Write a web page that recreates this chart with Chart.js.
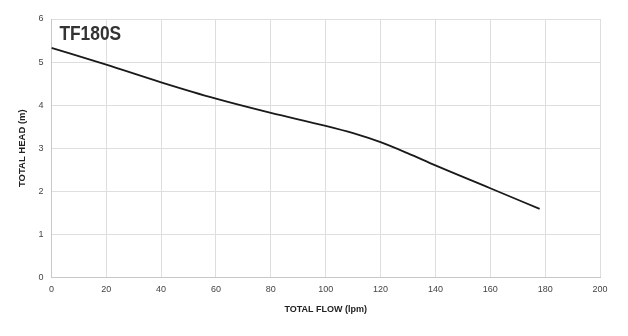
<!DOCTYPE html>
<html>
<head>
<meta charset="utf-8">
<script src="https://cdn.jsdelivr.net/npm/chart.js@4/dist/chart.umd.min.js"></script>
<style>
  html, body { margin: 0; padding: 0; background: #fff; }
  #wrap { width: 628px; height: 336px; }
</style>
</head>
<body>
<div id="wrap"><canvas id="pumpChart"></canvas></div>
<script>
"use strict";
const modelName = "TF180S";
const flowValues = [0, 20, 40, 60, 80, 100, 110, 120, 130, 140, 160, 178];
const headValues = [5.33, 4.94, 4.53, 4.15, 3.82, 3.52, 3.35, 3.14, 2.88, 2.60, 2.07, 1.59];

const FONT = "'Liberation Sans', Arial, sans-serif";

// model name sits inside the plot, top-left
const titleInside = {
  id: "titleInside",
  afterDraw(chart) {
    const { ctx, chartArea } = chart;
    ctx.save();
    ctx.fillStyle = "#333";
    ctx.font = "bold 19.5px " + FONT;
    ctx.textAlign = "left";
    ctx.textBaseline = "middle";
    ctx.translate(chartArea.left + 8, chartArea.top + 15.5);
    ctx.scale(0.89, 1);
    ctx.fillText(modelName, 0, 0);
    ctx.restore();
  }
};

new Chart(document.getElementById("pumpChart").getContext("2d"), {
  type: "line",
  data: {
    datasets: [{
      data: flowValues.map((f, i) => ({ x: f, y: headValues[i] })),
      borderColor: "#1a1a1a",
      borderWidth: 1.8,
      pointRadius: 0,
      cubicInterpolationMode: "monotone",
      fill: false
    }]
  },
  options: {
    responsive: true,
    maintainAspectRatio: false,
    animation: false,
    layout: { padding: { top: 19, right: 28, left: 13, bottom: 17 } },
    plugins: { legend: { display: false }, tooltip: { enabled: false } },
    scales: {
      x: {
        type: "linear",
        min: 0, max: 200,
        ticks: { stepSize: 20, color: "#444", font: { size: 9, family: FONT }, padding: 7 },
        grid: { color: "#dedede", drawTicks: false },
        border: { color: "#c8c8c8" },
        title: { display: true, text: "TOTAL FLOW (lpm)", color: "#222", font: { size: 9, weight: "bold", family: FONT }, padding: { top: 2 } }
      },
      y: {
        min: 0, max: 6,
        ticks: { stepSize: 1, color: "#444", font: { size: 9, family: FONT }, padding: 8 },
        grid: { color: "#dedede", drawTicks: false },
        border: { color: "#c8c8c8" },
        title: { display: true, text: "TOTAL HEAD (m)", color: "#222", font: { size: 9.5, weight: "bold", family: FONT }, padding: { bottom: 2 } }
      }
    }
  },
  plugins: [titleInside]
});
</script>
</body>
</html>
